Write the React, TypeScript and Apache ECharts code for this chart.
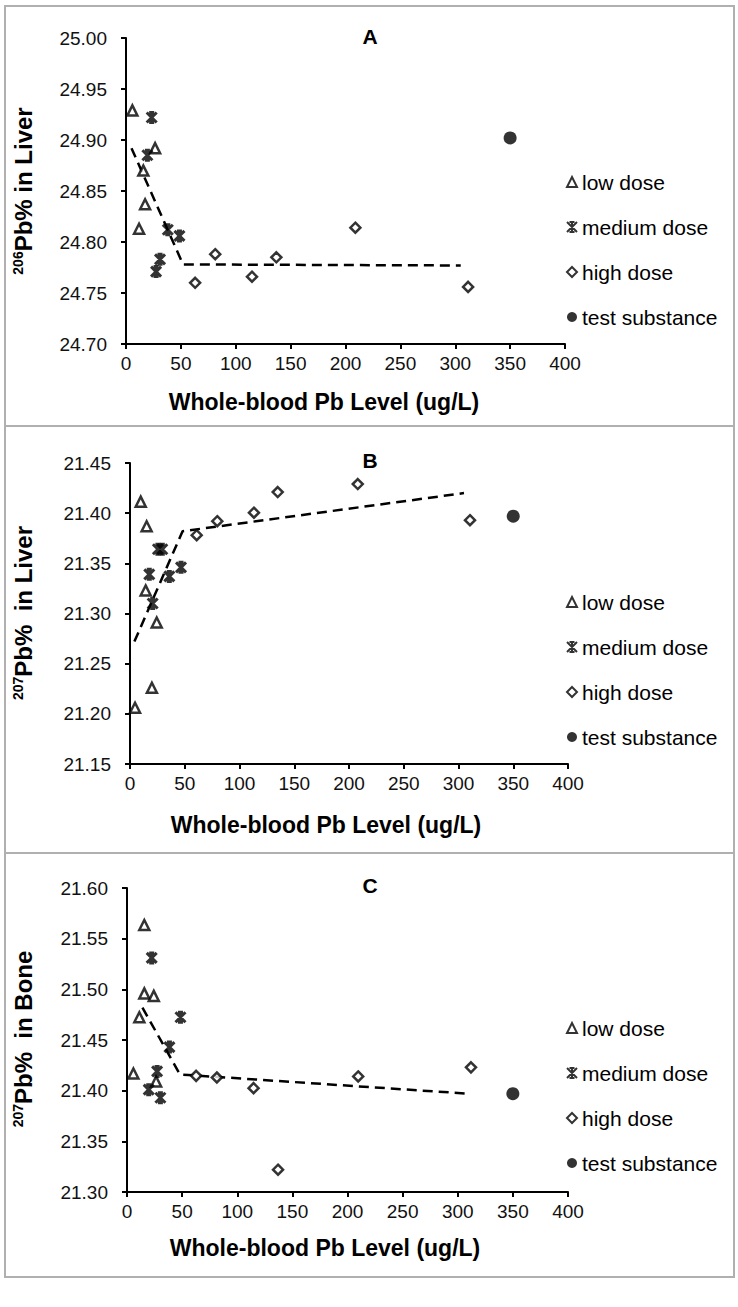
import React, { useEffect, useRef } from "react";
import * as echarts from "echarts";

const FONT = "'Liberation Sans', Arial, Helvetica, sans-serif";

const legendNames = ["low dose", "medium dose", "high dose", "test substance"];
const panelLetters = ["A", "B", "C"];
const yTitles = [
  ["206", "Pb% in Liver"],
  ["207", "Pb%  in Liver"],
  ["207", "Pb%  in Bone"],
];
const xTitle = "Whole-blood Pb Level (ug/L)";
const xRange = [0, 400, 50];
const yRanges = [
  [24.7, 25.0, 0.05],
  [21.15, 21.45, 0.05],
  [21.3, 21.6, 0.05],
];

// Panel A: 206Pb% in Liver
const lowA = [[5.8, 24.929], [11.9, 24.813], [15.8, 24.87], [17.4, 24.837], [26.5, 24.892]];
const medA = [[19.5, 24.885], [23.4, 24.922], [27.4, 24.771], [31, 24.783], [38.1, 24.812], [48.7, 24.806]];
const highA = [[63, 24.76], [81.3, 24.788], [114.8, 24.766], [137, 24.785], [209, 24.814], [311.7, 24.756]];
const testA = [[350, 24.902]];
const trendA = [[5, 24.892], [52, 24.778], [305, 24.777]];

// Panel B: 207Pb% in Liver
const lowB = [[4.6, 21.206], [9.8, 21.4115], [14.3, 21.323], [15.2, 21.387], [20, 21.226], [24.4, 21.291]];
const medB = [[17.6, 21.339], [20.7, 21.31], [25.5, 21.364], [29.5, 21.364], [35.9, 21.337], [46.6, 21.346]];
const highB = [[60.9, 21.378], [79.7, 21.392], [113.2, 21.4005], [134.9, 21.421], [208, 21.429], [310.5, 21.393]];
const testB = [[350, 21.397]];
const trendB = [[4, 21.272], [48, 21.382], [305, 21.42]];

// Panel C: 207Pb% in Bone
const lowC = [[5.8, 21.417], [11.2, 21.4725], [15.7, 21.5635], [15.7, 21.496], [24.3, 21.4935], [26.4, 21.409]];
const medC = [[19.7, 21.401], [22.4, 21.531], [27.3, 21.419], [30.3, 21.393], [38.5, 21.443], [48.5, 21.4725]];
const highC = [[62.7, 21.4146], [81.5, 21.413], [114.8, 21.4025], [137, 21.322], [209.7, 21.414], [312, 21.423]];
const testC = [[350, 21.397]];
const trendC = [[14, 21.482], [48, 21.416], [310, 21.397]];

const panels = [
  { low: lowA, med: medA, high: highA, test: testA, trend: trendA },
  { low: lowB, med: medB, high: highB, test: testB, trend: trendB },
  { low: lowC, med: medC, high: highC, test: testC, trend: trendC },
];

// layout (pixels)
const grids = [
  { left: 126, top: 38, width: 439, height: 306 },
  { left: 130, top: 463, width: 438, height: 301 },
  { left: 127, top: 888, width: 441, height: 304 },
];
const frames = [
  { y: 6, h: 420 },
  { y: 426, h: 427 },
  { y: 853, h: 424 },
];
const letterPos = [[370, 36], [370, 460], [370, 885]];
const xTitlePos = [[324, 402], [326, 825], [325, 1248]];
const yTitlePos = [[23, 191], [23, 613], [23, 1039]];
const legendTops = [171, 591, 1017];

const STAR = "path://M0,0L10,10M10,0L0,10M5,0L5,10M2.5,0L7.5,0M2.5,10L7.5,10";

export default function App() {
  const ref = useRef<HTMLDivElement>(null);
  useEffect(() => {
    if (!ref.current) return;
    const chart = echarts.init(ref.current, undefined, { renderer: "svg" });

    const xAxis = grids.map((_, i) => ({
      type: "value",
      gridIndex: i,
      min: xRange[0],
      max: xRange[1],
      interval: xRange[2],
      axisLine: { show: true, onZero: false, lineStyle: { color: "#000", width: 2 } },
      axisTick: { show: true, length: 5, lineStyle: { color: "#000", width: 2 } },
      axisLabel: { fontFamily: FONT, fontSize: 19, color: "#111", margin: 10 },
      splitLine: { show: false },
    }));
    const yAxis = grids.map((_, i) => ({
      type: "value",
      gridIndex: i,
      min: yRanges[i][0],
      max: yRanges[i][1],
      interval: yRanges[i][2],
      axisLine: { show: true, onZero: false, lineStyle: { color: "#000", width: 2 } },
      axisTick: { show: true, length: 5, lineStyle: { color: "#000", width: 2 } },
      axisLabel: {
        fontFamily: FONT,
        fontSize: 19,
        color: "#111",
        margin: 19,
        formatter: (v: number) => v.toFixed(2),
      },
      splitLine: { show: false },
    }));

    const series: any[] = [];
    panels.forEach((p, i) => {
      const base = { type: "scatter", xAxisIndex: i, yAxisIndex: i, z: 3 };
      series.push({
        ...base,
        name: "low dose",
        data: p.low,
        symbol: "triangle",
        symbolSize: 10,
        itemStyle: { color: "#fff", borderColor: "#000", borderWidth: 2.5 },
      });
      series.push({
        ...base,
        name: "medium dose",
        data: p.med,
        symbol: STAR,
        symbolSize: 10,
        itemStyle: { color: "rgba(0,0,0,0)", borderColor: "#000", borderWidth: 3 },
      });
      series.push({
        ...base,
        name: "high dose",
        data: p.high,
        symbol: "diamond",
        symbolSize: 10,
        itemStyle: { color: "#fff", borderColor: "#000", borderWidth: 2.5 },
      });
      series.push({
        ...base,
        name: "test substance",
        data: p.test,
        symbol: "circle",
        symbolSize: 13,
        itemStyle: { color: "#000" },
      });
      series.push({
        type: "line",
        name: "trend",
        xAxisIndex: i,
        yAxisIndex: i,
        data: p.trend,
        symbol: "none",
        silent: true,
        z: 2,
        lineStyle: { color: "#000", width: 2.5, type: [10, 6] },
      });
    });

    const legend = legendTops.map((top) => ({
      orient: "vertical",
      left: 566,
      top,
      padding: 0,
      itemWidth: 10,
      itemHeight: 10,
      itemGap: 23,
      selectedMode: false,
      data: legendNames,
      textStyle: { fontFamily: FONT, fontSize: 21, color: "#000", lineHeight: 22 },
    }));

    const graphic: any[] = [];
    frames.forEach((f) => {
      graphic.push({
        type: "rect",
        shape: { x: 5, y: f.y, width: 729, height: f.h },
        style: { fill: "none", stroke: "#b0b0b0", lineWidth: 2 },
        silent: true,
      });
    });
    panelLetters.forEach((l, i) => {
      graphic.push({
        type: "text",
        x: letterPos[i][0],
        y: letterPos[i][1],
        style: {
          text: l,
          font: `bold 21px ${FONT}`,
          fill: "#000",
          align: "center",
          verticalAlign: "middle",
        },
      });
      graphic.push({
        type: "text",
        x: xTitlePos[i][0],
        y: xTitlePos[i][1],
        style: {
          text: xTitle,
          font: `bold 23px ${FONT}`,
          fill: "#000",
          align: "center",
          verticalAlign: "middle",
        },
      });
      graphic.push({
        type: "text",
        x: yTitlePos[i][0],
        y: yTitlePos[i][1],
        rotation: Math.PI / 2,
        style: {
          text: `{sup|${yTitles[i][0]}}{t|${yTitles[i][1]}}`,
          align: "center",
          verticalAlign: "middle",
          rich: {
            sup: {
              fontFamily: FONT,
              fontWeight: "bold",
              fontSize: 14,
              fill: "#000",
              padding: [0, 0, 11, 0],
            },
            t: {
              fontFamily: FONT,
              fontWeight: "bold",
              fontSize: 24,
              fill: "#000",
            },
          },
        },
      });
    });

    chart.setOption({
      animation: false,
      backgroundColor: "#fff",
      grid: grids.map((g) => ({ ...g, containLabel: false })),
      xAxis,
      yAxis,
      legend,
      series,
      graphic,
    });
    return () => chart.dispose();
  }, []);

  return (
    <div
      ref={ref}
      style={{ position: "absolute", left: 0, top: 0, width: 738, height: 1307, background: "#fff" }}
    />
  );
}
